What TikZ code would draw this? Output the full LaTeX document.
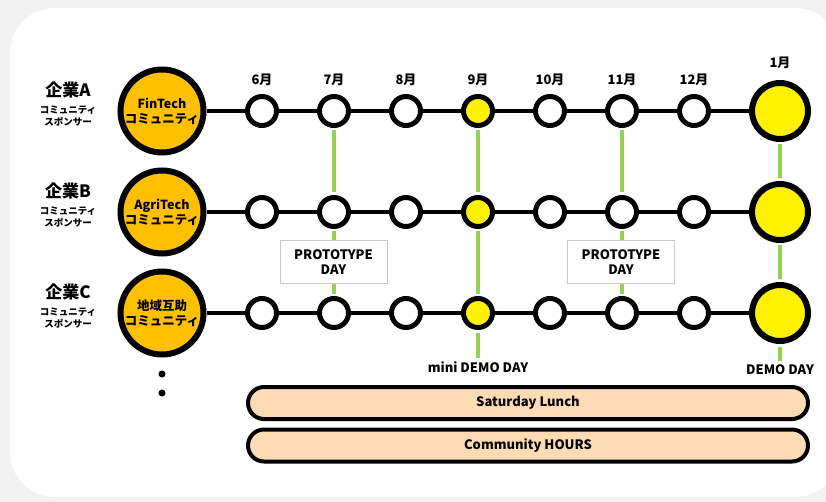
\documentclass[tikz,border=0pt]{standalone}
\usepackage{fontspec}
\setmainfont{Noto Sans CJK JP}
\definecolor{bgc}{HTML}{F2F2F2}
\definecolor{hubc}{HTML}{FFC000}
\definecolor{linkc}{HTML}{92D050}
\definecolor{barc}{HTML}{FDDCB4}
\definecolor{boxc}{HTML}{C8C8C8}
\begin{document}
\begin{tikzpicture}[x=1pt,y=-1pt,
 hub/.style={draw,circle,line width=6pt,fill=hubc,minimum size=83pt,inner sep=0pt,align=center,font=\fontsize{12.5}{15}\selectfont\bfseries},
 mon/.style={draw,circle,line width=5pt,fill=white,minimum size=29pt,inner sep=0pt},
 demo/.style={mon,fill=yellow},
 goal/.style={draw,circle,line width=6pt,fill=yellow,minimum size=56pt,inner sep=0pt},
 rail/.style={line width=4pt},
 link/.style={line width=4pt,draw=linkc,shorten <=2.5pt,shorten >=2.5pt},
 firm/.style={font=\fontsize{17}{17}\selectfont\bfseries,inner sep=0pt},
 role/.style={align=center,font=\fontsize{9.5}{12}\selectfont\bfseries,inner sep=0pt},
 tag/.style={font=\fontsize{13}{13}\selectfont\bfseries,inner sep=1pt},
 protobox/.style={draw=boxc,line width=1pt,fill=white,minimum width=107pt,minimum height=42pt,align=center,font=\fontsize{13}{15}\selectfont\bfseries},
 bar/.style={draw,line width=4pt,fill=barc,rounded corners=16pt,minimum width=560pt,minimum height=32pt,font=\fontsize{13}{13}\selectfont\bfseries}]
\useasboundingbox (0,0) rectangle (826,502);
\fill[bgc] (0,0) rectangle (826,502);
\fill[white,rounded corners=45pt] (10,8) rectangle (840,497);
% sponsors
\node[firm] (ka)at(68,90){企業A};
\node[role] (sa)at(68,116){コミュニティ\\スポンサー};
\node[firm] (kb)at(68,191){企業B};
\node[role] (sb)at(68,217){コミュニティ\\スポンサー};
\node[firm] (kc)at(68,292){企業C};
\node[role] (sc)at(68,318){コミュニティ\\スポンサー};
\node[hub] (ha)at(162,111){FinTech\\コミュニティ};
\node[hub] (hb)at(162,212){AgriTech\\コミュニティ};
\node[hub] (hc)at(162,313){地域互助\\コミュニティ};
\node[circle,fill,inner sep=2.5pt] (d1)at(162,374){};
\node[circle,fill,inner sep=2.5pt] (d2)at(162,393){};
% months
\node[tag] (m6)at(262,80){6月};
\node[tag] (m7)at(334,80){7月};
\node[tag] (m8)at(406,80){8月};
\node[tag] (m9)at(478,80){9月};
\node[tag] (m10)at(550,80){10月};
\node[tag] (m11)at(622,80){11月};
\node[tag] (m12)at(694,80){12月};
\node[tag] (m1)at(780,63){1月};
% row A
\node[mon] (a6)at(262,111){};
\node[mon] (a7)at(334,111){};
\node[mon] (a8)at(406,111){};
\node[demo] (a9)at(478,111){};
\node[mon] (a10)at(550,111){};
\node[mon] (a11)at(622,111){};
\node[mon] (a12)at(694,111){};
\node[goal] (a1)at(780,111){};
% row B
\node[mon] (b6)at(262,212){};
\node[mon] (b7)at(334,212){};
\node[mon] (b8)at(406,212){};
\node[demo] (b9)at(478,212){};
\node[mon] (b10)at(550,212){};
\node[mon] (b11)at(622,212){};
\node[mon] (b12)at(694,212){};
\node[goal] (b1)at(780,212){};
% row C
\node[mon] (c6)at(262,313){};
\node[mon] (c7)at(334,313){};
\node[mon] (c8)at(406,313){};
\node[demo] (c9)at(478,313){};
\node[mon] (c10)at(550,313){};
\node[mon] (c11)at(622,313){};
\node[mon] (c12)at(694,313){};
\node[goal] (c1)at(780,313){};
\draw[rail] (ha)--(a6)--(a7)--(a8)--(a9)--(a10)--(a11)--(a12)--(a1);
\draw[rail] (hb)--(b6)--(b7)--(b8)--(b9)--(b10)--(b11)--(b12)--(b1);
\draw[rail] (hc)--(c6)--(c7)--(c8)--(c9)--(c10)--(c11)--(c12)--(c1);
\node[tag] (mdd)at(478,367){mini DEMO DAY};
\node[tag] (dd)at(780,370){DEMO DAY};
\draw[link] (a7)--(b7);
\draw[link] (b7)--(c7);
\draw[link] (a11)--(b11);
\draw[link] (b11)--(c11);
\draw[link] (a9)--(b9);
\draw[link] (b9)--(c9);
\draw[link] (c9)--(mdd);
\draw[link] (a1)--(b1);
\draw[link] (b1)--(c1);
\draw[link] (c1)--(dd);
\node[protobox] (p7)at(333.5,262){PROTOTYPE\\DAY};
\node[protobox] (p11)at(621,262){PROTOTYPE\\DAY};
% weekly
\node[bar] (lunch)at(528,403){Saturday Lunch};
\node[bar] (hours)at(528,445.5){Community HOURS};
\end{tikzpicture}
\end{document}
